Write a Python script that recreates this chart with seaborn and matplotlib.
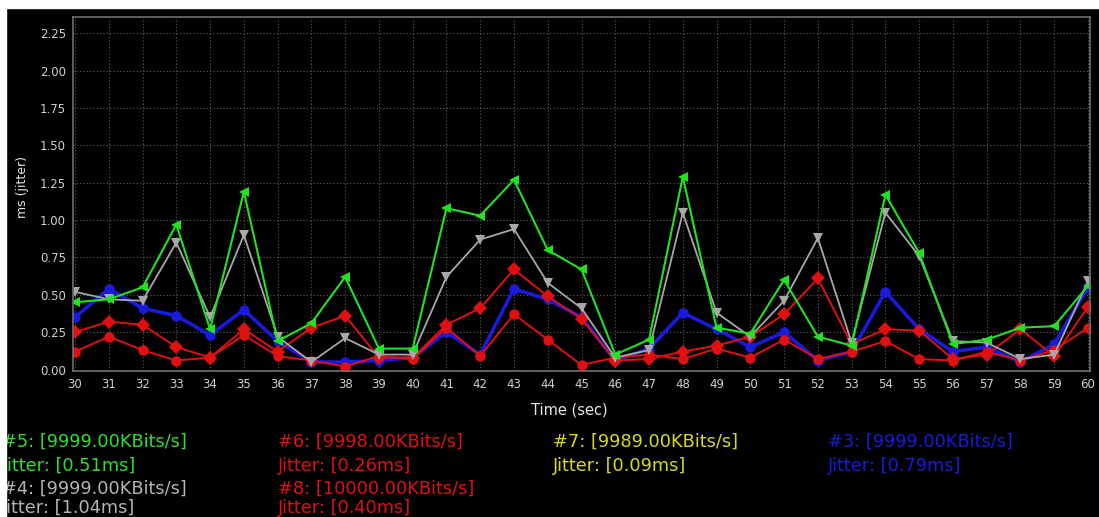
"""
Jitter per stream over time, dark iperf-style chart.
"""
import pandas as pd
import matplotlib
matplotlib.use("Agg")
import matplotlib.pyplot as plt
import seaborn as sns
from matplotlib.patches import Rectangle

# ----------------------------------------------------
# Data
# ----------------------------------------------------
seconds = list(range(30, 61))

jitter_5 = [0.45, 0.47, 0.55, 0.97, 0.27, 1.19, 0.19, 0.31, 0.62, 0.14, 0.14,
            1.08, 1.03, 1.27, 0.80, 0.67, 0.10, 0.20, 1.29, 0.28, 0.24,
            0.60, 0.22, 0.16, 1.17, 0.78, 0.17, 0.20, 0.28, 0.29, 0.56]
jitter_4 = [0.52, 0.47, 0.46, 0.85, 0.35, 0.90, 0.22, 0.05, 0.21, 0.10, 0.10,
            0.62, 0.87, 0.94, 0.58, 0.41, 0.08, 0.13, 1.05, 0.38, 0.22,
            0.46, 0.88, 0.18, 1.05, 0.76, 0.19, 0.18, 0.07, 0.10, 0.59]
jitter_3 = [0.35, 0.54, 0.41, 0.36, 0.23, 0.40, 0.19, 0.05, 0.05, 0.06, 0.08,
            0.25, 0.10, 0.54, 0.47, 0.35, 0.06, 0.14, 0.38, 0.27, 0.15,
            0.25, 0.06, 0.12, 0.52, 0.27, 0.12, 0.15, 0.05, 0.17, 0.55]
jitter_6 = [0.25, 0.32, 0.30, 0.15, 0.08, 0.27, 0.12, 0.28, 0.36, 0.08, 0.08,
            0.30, 0.41, 0.67, 0.49, 0.34, 0.06, 0.07, 0.12, 0.16, 0.22,
            0.37, 0.61, 0.17, 0.27, 0.26, 0.07, 0.10, 0.27, 0.09, 0.42]
jitter_8 = [0.12, 0.22, 0.13, 0.06, 0.08, 0.23, 0.09, 0.06, 0.02, 0.09, 0.07,
            0.28, 0.09, 0.37, 0.20, 0.03, 0.08, 0.10, 0.07, 0.14, 0.08,
            0.20, 0.07, 0.12, 0.19, 0.07, 0.06, 0.12, 0.06, 0.13, 0.28]

y_ticks = [0.00, 0.25, 0.50, 0.75, 1.00, 1.25, 1.50, 1.75, 2.00, 2.25]

legend_lines = [
    ("#5: [9999.00KBits/s]", "jitter: [0.51ms]", "#2ee02e"),
    ("#6: [9998.00KBits/s]", "Jitter: [0.26ms]", "#e01010"),
    ("#7: [9989.00KBits/s]", "Jitter: [0.09ms]", "#d8d820"),
    ("#3: [9999.00KBits/s]", "Jitter: [0.79ms]", "#1a1adc"),
    ("#4: [9999.00KBits/s]", "Jitter: [1.04ms]", "#b4b4b4"),
    ("#8: [10000.00KBits/s]", "Jitter: [0.40ms]", "#e01010"),
]

# draw order: bottom first
series = [
    ("#3", jitter_3, "#1a1adc", "o", 2.6),
    ("#8", jitter_8, "#e01010", "o", 1.4),
    ("#6", jitter_6, "#e01010", "D", 1.4),
    ("#4", jitter_4, "#a8a8a8", "v", 1.3),
    ("#5", jitter_5, "#22e022", "<", 1.5),
]


def main():
    sns.set_theme(style="dark")
    plt.rcParams.update({
        "axes.facecolor": "black",
        "figure.facecolor": "black",
        "axes.edgecolor": "#6e6e6e",
        "text.color": "#e6e6e6",
        "axes.labelcolor": "#e6e6e6",
        "xtick.color": "#d0d0d0",
        "ytick.color": "#d0d0d0",
    })
    plt.rcParams["font.family"] = ["DejaVu Sans"]

    fig = plt.figure(figsize=(10.99, 5.17), dpi=100)
    ax = fig.add_axes([73 / 1099, 1 - 371 / 517, 1017 / 1099, 354 / 517])

    for name, vals, color, marker, lw in series:
        df = pd.DataFrame({"time": seconds, "jitter": vals})
        sns.lineplot(data=df, x="time", y="jitter", ax=ax, color=color,
                     marker=marker, markersize=7.5, markeredgewidth=0,
                     linewidth=lw, legend=False)

    ax.set_xlim(29.94, 60.06)
    ax.set_ylim(-0.01, 2.36)
    ax.set_xticks(seconds)
    ax.set_yticks(y_ticks)
    ax.set_yticklabels([f"{v:.2f}" for v in y_ticks])
    ax.tick_params(axis="both", labelsize=8.5, length=2, pad=3)
    ax.grid(True, color="#5e5e5e", linestyle=(0, (1, 2)), linewidth=0.8)
    for s in ax.spines.values():
        s.set_linewidth(1.2)

    ax.set_xlabel("Time (sec)", fontsize=10.5)
    ax.set_ylabel("ms (jitter)", fontsize=9)
    ax.xaxis.set_label_coords(0.488, -0.09)
    ax.yaxis.set_label_coords(-0.043, 0.52)

    # stream summary block under the chart
    col_x = [2, 278, 553, 828]
    row_y = [442, 466, 489, 508]
    slots = [(0, 0), (1, 0), (2, 0), (3, 0), (0, 2), (1, 2)]
    for (head, jit, color), (c, r) in zip(legend_lines, slots):
        fig.text(col_x[c] / 1099, 1 - row_y[r] / 517, head, color=color,
                 fontsize=12.8, va="center", ha="left")
        fig.text(col_x[c] / 1099, 1 - row_y[r + 1] / 517, jit, color=color,
                 fontsize=12.8, va="center", ha="left")

    # white frame at top and left of the screenshot
    fig.patches.append(Rectangle((0, 1 - 8 / 517), 1, 8 / 517,
                                 transform=fig.transFigure, color="white",
                                 zorder=20))
    fig.patches.append(Rectangle((0, 0), 6 / 1099, 1,
                                 transform=fig.transFigure, color="white",
                                 zorder=20))

    fig.savefig("out.png", dpi=100, facecolor="black")
    plt.close(fig)


if __name__ == "__main__":
    main()
